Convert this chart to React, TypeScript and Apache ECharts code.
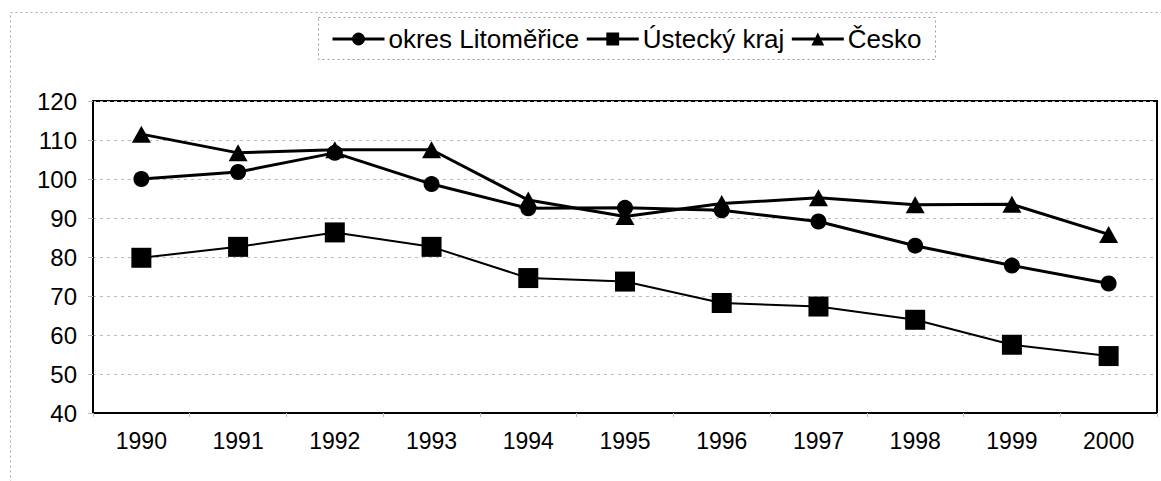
import React, { useEffect, useRef } from "react";
import * as echarts from "echarts";

const years = ["1990", "1991", "1992", "1993", "1994", "1995", "1996", "1997", "1998", "1999", "2000"];
const litomerice = [100, 101.8, 106.7, 98.7, 92.5, 92.6, 92, 89.1, 82.9, 77.8, 73.2];
const ustecky = [79.8, 82.6, 86.3, 82.6, 74.6, 73.7, 68.2, 67.3, 63.9, 57.5, 54.6];
const cesko = [111.5, 106.7, 107.5, 107.5, 94.6, 90.4, 93.7, 95.2, 93.4, 93.5, 85.8];

export default function App() {
  const ref = useRef<HTMLDivElement>(null);
  useEffect(() => {
    if (!ref.current) return;
    const chart = echarts.init(ref.current, undefined, { renderer: "svg" });
    const font = "'Liberation Sans', Arial, sans-serif";
    chart.setOption({
      animation: false,
      backgroundColor: "#fff",
      textStyle: { fontFamily: font, color: "#000" },
      legend: {
        left: 326,
        top: 21,
        itemGap: 6,
        itemWidth: 52,
        itemHeight: 16,
        lineStyle: { width: 3 },
        textStyle: { fontSize: 26, color: "#000", fontFamily: font, padding: [0, 0, 0, -1] },
        data: ["okres Litoměřice", "Ústecký kraj", "Česko"],
      },
      graphic: [
        {
          type: "rect",
          shape: { x: 10.5, y: 12.5, width: 1300, height: 600 },
          style: { fill: "none", stroke: "#aaa", lineWidth: 1, lineDash: [2, 3] },
          silent: true,
        },
        {
          type: "rect",
          shape: { x: 318.5, y: 17.5, width: 617, height: 42 },
          style: { fill: "none", stroke: "#999", lineWidth: 1, lineDash: [2, 3] },
          silent: true,
        },
      ],
      grid: { left: 93, right: 4, top: 101, bottom: 68, show: true, borderColor: "#000", borderWidth: 2 },
      xAxis: {
        type: "category",
        data: years,
        boundaryGap: true,
        axisLine: { lineStyle: { color: "#000", width: 2 } },
        axisTick: { show: true, length: 4, lineStyle: { color: "#bbb" } },
        axisLabel: { fontSize: 23, color: "#000", margin: 16, fontFamily: font },
      },
      yAxis: {
        type: "value",
        min: 40,
        max: 120,
        interval: 10,
        axisLine: { show: true, lineStyle: { color: "#000", width: 2 } },
        axisTick: { show: true, length: 5, lineStyle: { color: "#bbb" } },
        axisLabel: { fontSize: 24, color: "#000", margin: 16, fontFamily: font },
        splitLine: { show: true, lineStyle: { color: "#bbb", type: [3, 4], width: 1 } },
      },
      series: [
        {
          name: "okres Litoměřice",
          type: "line",
          data: litomerice,
          symbol: "circle",
          symbolSize: 16,
          itemStyle: { color: "#000" },
          lineStyle: { color: "#000", width: 3 },
          z: 3,
        },
        {
          name: "Ústecký kraj",
          type: "line",
          data: ustecky,
          symbol: "rect",
          symbolSize: 20,
          itemStyle: { color: "#000" },
          lineStyle: { color: "#000", width: 2 },
          z: 2,
        },
        {
          name: "Česko",
          type: "line",
          data: cesko,
          symbol: "triangle",
          symbolSize: [19, 17],
          itemStyle: { color: "#000" },
          lineStyle: { color: "#000", width: 3 },
          z: 4,
        },
      ],
    });
    return () => chart.dispose();
  }, []);
  return <div ref={ref} style={{ position: "absolute", left: 0, top: 0, width: 1161, height: 481 }} />;
}
